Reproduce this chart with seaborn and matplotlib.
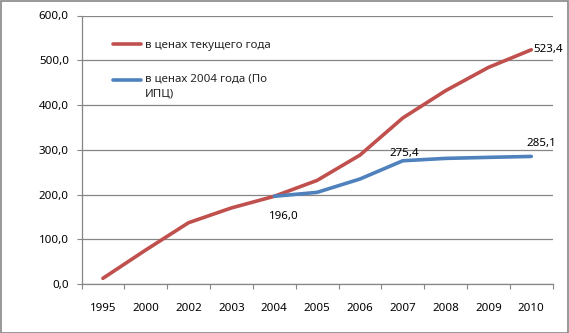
import matplotlib
matplotlib.use("Agg")
import matplotlib.pyplot as plt
import matplotlib.ticker as mticker
from matplotlib.patches import Rectangle
import numpy as np
import pandas as pd
import seaborn as sns

years = ["1995", "2000", "2002", "2003", "2004", "2005", "2006", "2007", "2008", "2009", "2010"]
current_prices = [12.7, 76.0, 137.0, 170.0, 196.0, 231.5, 288.0, 371.0, 432.0, 484.0, 523.4]
prices_2004 = [np.nan, np.nan, np.nan, np.nan, 196.0, 204.8, 234.6, 275.4, 280.7, 283.0, 285.1]
series_names = ["в ценах текущего года", "в ценах 2004 года (По\nИПЦ)"]
yticks = [0, 100, 200, 300, 400, 500, 600]

df = pd.DataFrame({
    "year": years * 2,
    "value": current_prices + prices_2004,
    "series": [series_names[0]] * len(years) + [series_names[1]] * len(years),
})

sns.set_theme(style="white")
plt.rcParams["font.family"] = ["Noto Sans", "DejaVu Sans"]

GRAY = "#868686"
RED = "#C0504D"
BLUE = "#4F81BD"
FS = 8.3

fig = plt.figure(figsize=(5.69, 3.33), dpi=100)
ax = fig.add_axes([81.5 / 569, 1 - 284 / 333, (552.7 - 81.5) / 569, (284 - 15.5) / 333])

sns.lineplot(data=df, x="year", y="value", hue="series", palette=[RED, BLUE],
             linewidth=2.6, ax=ax, sort=False)

ax.set_xlim(-0.5, len(years) - 0.5)
ax.set_ylim(0, 600)
ax.set_yticks(yticks)
ax.yaxis.set_major_formatter(mticker.FuncFormatter(lambda v, p: f"{v:.1f}".replace(".", ",")))
ax.set_xlabel("")
ax.set_ylabel("")

ax.grid(axis="y", color=GRAY, linewidth=0.9)
ax.grid(axis="x", visible=False)
ax.set_axisbelow(True)
for s in ["top", "right"]:
    ax.spines[s].set_visible(False)
for s in ["left", "bottom"]:
    ax.spines[s].set_color(GRAY)
    ax.spines[s].set_linewidth(0.9)

ax.tick_params(axis="y", which="major", length=3.6, width=0.8, color=GRAY, pad=5.5,
               labelsize=FS, labelcolor="black", left=True)
ax.tick_params(axis="x", which="major", length=0, pad=13.5, labelsize=FS, labelcolor="black")
ax.xaxis.set_minor_locator(mticker.FixedLocator(np.arange(-0.5, len(years), 1.0)))
ax.tick_params(axis="x", which="minor", length=3.6, width=0.8, color=GRAY, bottom=True)

# data labels
def lab(series, i, dx, dy, ha, va):
    ax.annotate(f"{series[i]:.1f}".replace(".", ","), (i, series[i]), xytext=(dx, dy),
                textcoords="offset points", ha=ha, va=va, fontsize=FS, color="black")

lab(current_prices, 10, 1.5, 0, "left", "center")
lab(prices_2004, 10, 7, 9, "center", "center")
lab(prices_2004, 7, 1, 5, "center", "center")
lab(prices_2004, 4, 7, -14.5, "center", "center")

leg = ax.legend(loc="upper left", bbox_to_anchor=(113 / 569, 1 - 40 / 333),
                bbox_transform=fig.transFigure, frameon=False, fontsize=FS,
                handlelength=2.4, handletextpad=0.4, labelspacing=1.95,
                borderaxespad=0, borderpad=0)
for line in leg.get_lines():
    line.set_linewidth(2.6)
leg.get_texts()[1].set_linespacing(1.55)
# align the blue sample with the first line of its two-line label
bl = leg.get_lines()[1]
bl.set_ydata(np.asarray(bl.get_ydata(), dtype=float) + 4.8)

fig.patches.append(Rectangle((0.5 / 569, 0.5 / 333), 567.5 / 569, 331.5 / 333,
                             transform=fig.transFigure, fill=False, ec=GRAY, lw=1.2))

fig.savefig("out.png", dpi=100)
